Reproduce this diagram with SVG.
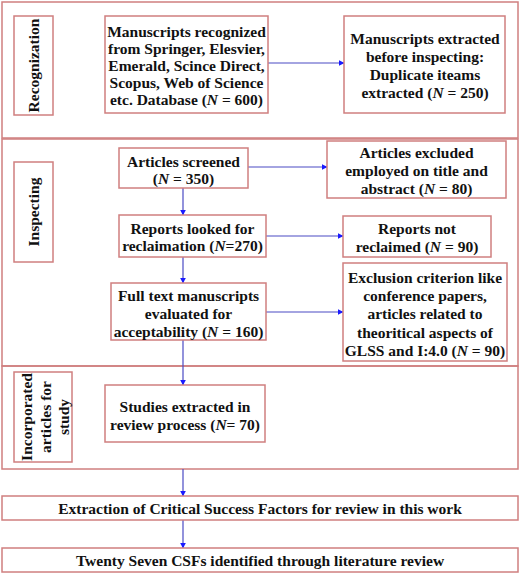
<svg xmlns="http://www.w3.org/2000/svg" width="520" height="574" viewBox="0 0 520 574">
<defs>
<style>
.sec{fill:none;stroke:#cf7f7f;stroke-width:1.5}
.box{fill:#fff;stroke:#cf7f7f;stroke-width:1.5}
.t{font-family:"Liberation Serif","Times New Roman",serif;font-size:15.5px;font-weight:bold;fill:#111;text-anchor:middle}
.i{font-style:italic}
.c{fill:none;stroke:#4a4ac4;stroke-width:1.2;marker-end:url(#ah)}
</style>
<marker id="ah" viewBox="0 0 10 10" refX="9" refY="5" markerWidth="6" markerHeight="6" orient="auto" markerUnits="userSpaceOnUse">
<path d="M0,0 L10,5 L0,10 z" fill="#1a1aff"/>
</marker>
</defs>
<rect width="520" height="574" fill="#fff"/>
<g id="sections">
<rect class="sec" x="2" y="2" width="516" height="136"/>
<rect class="sec" x="2" y="139" width="516" height="227"/>
<rect class="sec" x="2" y="366" width="516" height="103"/>
</g>
<g id="label-recognization">
<rect class="box" x="14" y="16" width="39" height="99"/>
<text class="t" x="38.5" y="65.5" transform="rotate(-90 38.5 65.5)">Recognization</text>
</g>
<g id="label-inspecting">
<rect class="box" x="14" y="162" width="39" height="100"/>
<text class="t" x="38.5" y="212" transform="rotate(-90 38.5 212)">Inspecting</text>
</g>
<g id="label-incorporated">
<rect class="box" x="14" y="372" width="58" height="90"/>
<text class="t" transform="translate(32 417) rotate(-90)"><tspan x="0" y="0">Incorporated</tspan><tspan x="0" y="19">articles for</tspan><tspan x="0" y="37">study</tspan></text>
</g>
<g id="connectors">
<line class="c" x1="268" y1="63" x2="344" y2="63"/>
<line class="c" x1="248" y1="167" x2="327" y2="167"/>
<line class="c" x1="183" y1="188" x2="183" y2="215"/>
<line class="c" x1="266" y1="236" x2="343" y2="236"/>
<line class="c" x1="183" y1="257" x2="183" y2="283"/>
<line class="c" x1="266" y1="312" x2="343" y2="312"/>
<line class="c" x1="183" y1="340" x2="183" y2="385"/>
<line class="c" x1="183" y1="469" x2="183" y2="496"/>
<line class="c" x1="183" y1="520" x2="183" y2="548"/>
</g>
<g id="n-manuscripts">
<rect class="box" x="105" y="16" width="163" height="97"/>
<text class="t"><tspan x="186.5" y="36.5">Manuscripts recognized</tspan><tspan x="186.5" y="53.5">from Springer, Elesvier,</tspan><tspan x="186.5" y="70.5">Emerald, Scince Direct,</tspan><tspan x="186.5" y="87.5">Scopus, Web of Science</tspan><tspan x="186.5" y="104.5">etc. Database (<tspan class="i">N</tspan> = 600)</tspan></text>
</g>
<g id="n-duplicates">
<rect class="box" x="344" y="16" width="161" height="97"/>
<text class="t"><tspan x="425" y="44">Manuscripts extracted</tspan><tspan x="425" y="62">before inspecting:</tspan><tspan x="425" y="80">Duplicate iteams</tspan><tspan x="425" y="98">extracted (<tspan class="i">N</tspan> = 250)</tspan></text>
</g>
<g id="n-screened">
<rect class="box" x="119" y="148" width="129" height="40"/>
<text class="t"><tspan x="183.5" y="166.5">Articles screened</tspan><tspan x="183.5" y="183.5">(<tspan class="i">N</tspan> = 350)</tspan></text>
</g>
<g id="n-excluded">
<rect class="box" x="327" y="141" width="179" height="57"/>
<text class="t"><tspan x="416.5" y="157.5">Articles excluded</tspan><tspan x="416.5" y="175.5">employed on title and</tspan><tspan x="416.5" y="193.5">abstract (<tspan class="i">N</tspan> = 80)</tspan></text>
</g>
<g id="n-reports">
<rect class="box" x="119" y="215" width="147" height="42"/>
<text class="t"><tspan x="192.5" y="233.5">Reports looked for</tspan><tspan x="192.5" y="250.5">reclaimation (<tspan class="i">N</tspan>=270)</tspan></text>
</g>
<g id="n-notreclaimed">
<rect class="box" x="343" y="216" width="148" height="41"/>
<text class="t"><tspan x="417" y="233.5">Reports not</tspan><tspan x="417" y="251.5">reclaimed (<tspan class="i">N</tspan> = 90)</tspan></text>
</g>
<g id="n-fulltext">
<rect class="box" x="111" y="283" width="155" height="57"/>
<text class="t"><tspan x="188.5" y="300.5">Full text manuscripts</tspan><tspan x="188.5" y="318.5">evaluated for</tspan><tspan x="188.5" y="336.5">acceptability (<tspan class="i">N</tspan> = 160)</tspan></text>
</g>
<g id="n-exclusion">
<rect class="box" x="343" y="263" width="164" height="98"/>
<text class="t"><tspan x="425" y="282.5">Exclusion criterion like</tspan><tspan x="425" y="300.5">conference papers,</tspan><tspan x="425" y="318.5">articles related to</tspan><tspan x="425" y="337.5">theoritical aspects of</tspan><tspan x="425" y="355.5">GLSS and I:4.0 (<tspan class="i">N</tspan> = 90)</tspan></text>
</g>
<g id="n-studies">
<rect class="box" x="105" y="385" width="160" height="57"/>
<text class="t"><tspan x="185" y="411.5">Studies extracted in</tspan><tspan x="185" y="429.5">review process (<tspan class="i">N</tspan>= 70)</tspan></text>
</g>
<g id="n-extraction">
<rect class="box" x="2" y="496" width="516" height="24"/>
<text class="t" x="260" y="513.5">Extraction of Critical Success Factors for review in this work</text>
</g>
<g id="n-twenty">
<rect class="box" x="2" y="548" width="516" height="24"/>
<text class="t" x="260" y="565.5">Twenty Seven CSFs identified through literature review</text>
</g>
</svg>
